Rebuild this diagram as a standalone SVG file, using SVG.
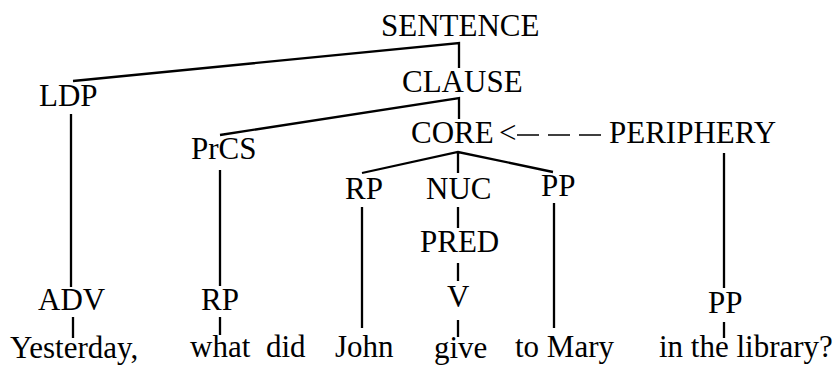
<svg xmlns="http://www.w3.org/2000/svg" width="836" height="367" viewBox="0 0 836 367">
<style>
text{font-family:"Liberation Serif","Times New Roman",serif;font-size:31px;fill:#000}
.l{stroke:#000;stroke-width:2.3;fill:none}
.d{stroke:#000;stroke-width:1.5;fill:none;stroke-dasharray:22 9}
</style>
<rect width="836" height="367" fill="#fff"/>
<g id="connectors">
<path class="l" d="M73,81 L459,43 L459,68"/>
<path class="l" d="M220,135 L459,98 L459,119"/>
<path class="l" d="M362,173 L458,152 L553,172 M458,152 L458,173"/>
<path class="l" d="M71,114 V287"/>
<path class="l" d="M220,170 V286"/>
<path class="l" d="M724,153 V288"/>
<path class="l" d="M362,207 V328"/>
<path class="l" d="M458,207 V228"/>
<path class="l" d="M458,263 V281"/>
<path class="l" d="M458,320 V337"/>
<path class="l" d="M554,203 V328"/>
<path class="l" d="M73,317 V338"/>
<path class="l" d="M220,317 V335"/>
<path class="l" d="M724,322 V338"/>
<path class="d" d="M517,135 H603"/>
<text x="499" y="143">&lt;</text>
</g>
<g id="n-sentence"><text x="381" y="36">SENTENCE</text></g>
<g id="n-ldp"><text x="39" y="106">LDP</text></g>
<g id="n-clause"><text x="402" y="92">CLAUSE</text></g>
<g id="n-prcs"><text x="191" y="159">PrCS</text></g>
<g id="n-core"><text x="411" y="143">CORE</text></g>
<g id="n-periphery"><text x="609" y="143">PERIPHERY</text></g>
<g id="n-rp-core"><text x="345" y="199">RP</text></g>
<g id="n-nuc"><text x="426" y="199">NUC</text></g>
<g id="n-pp-core"><text x="541" y="196">PP</text></g>
<g id="n-pred"><text x="420" y="252">PRED</text></g>
<g id="n-v"><text x="447" y="307">V</text></g>
<g id="n-adv"><text x="38" y="310">ADV</text></g>
<g id="n-rp-prcs"><text x="201" y="310">RP</text></g>
<g id="n-pp-per"><text x="708" y="313">PP</text></g>
<g id="w-yesterday"><text x="10" y="358">Yesterday,</text></g>
<g id="w-what"><text x="190" y="357">what</text></g>
<g id="w-did"><text x="266" y="357">did</text></g>
<g id="w-john"><text x="335" y="357">John</text></g>
<g id="w-give"><text x="434" y="358">give</text></g>
<g id="w-tomary"><text x="515" y="357">to Mary</text></g>
<g id="w-library"><text x="659" y="357">in the library?</text></g>
</svg>
